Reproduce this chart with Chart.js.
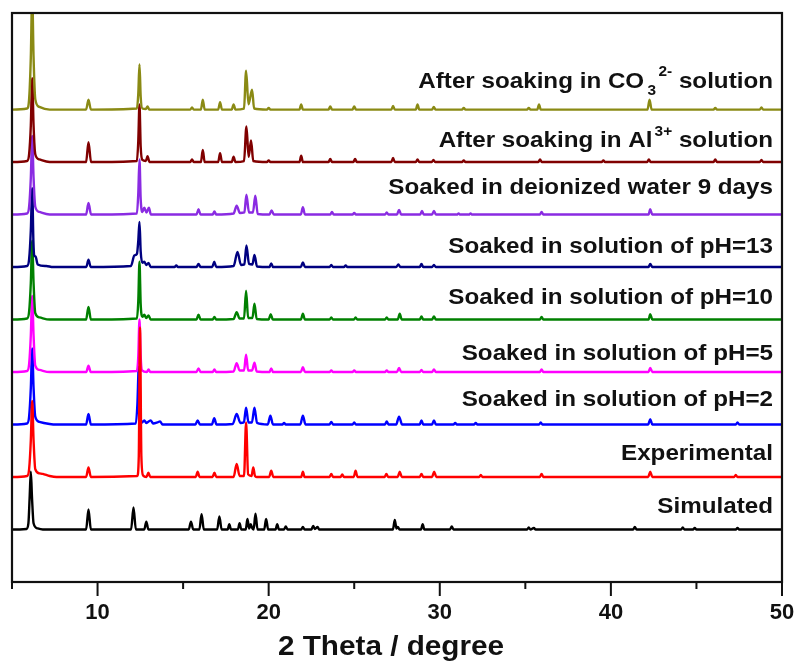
<!DOCTYPE html>
<html>
<head>
<meta charset="utf-8">
<script src="https://cdn.jsdelivr.net/npm/chart.js@4.4.1/dist/chart.umd.min.js"></script>
<style>
  html, body { margin: 0; padding: 0; background: #fff; }
  #xrd { display: block; }
</style>
</head>
<body>
<canvas id="xrd" width="800" height="666"></canvas>
<script>
// --- XRD patterns, [2theta, relative intensity] ---
const simulated = [[5,0],[5.85,0.01],[5.96,0.12],[6.03,0.6],[6.1,1.1],[6.17,0.6],[6.26,0.12],[6.5,0.02],[6.8,0],
  [9.33,0],[9.47,0.38],[9.61,0],[11.96,0],[12.1,0.42],[12.24,0],[12.73,0],[12.85,0.15],[12.97,0],
  [15.33,0],[15.46,0.15],[15.59,0],[15.95,0],[16.08,0.29],[16.21,0],[16.99,0],[17.12,0.25],[17.25,0],
  [17.6,0],[17.7,0.1],[17.8,0],[18.2,0],[18.3,0.12],[18.4,0],[18.66,0],[18.76,0.2],[18.86,0.02],[18.95,0.1],[19.05,0.02],
  [19.12,0],[19.23,0.3],[19.35,0],[19.74,0],[19.85,0.2],[19.97,0],[20.4,0],[20.5,0.1],[20.6,0],[20.9,0],[21.0,0.06],[21.1,0],
  [21.9,0],[22.0,0.05],[22.1,0],[22.5,0],[22.6,0.07],[22.7,0.01],[22.86,0.05],[22.95,0],
  [27.26,0],[27.37,0.18],[27.47,0.02],[27.55,0.05],[27.65,0],[28.9,0],[29.0,0.1],[29.1,0],[30.6,0],[30.7,0.06],[30.8,0],
  [35.1,0],[35.2,0.04],[35.3,0],[35.5,0.03],[35.6,0],[41.3,0],[41.4,0.05],[41.5,0],
  [44.1,0],[44.2,0.04],[44.3,0],[44.8,0],[44.9,0.03],[45.0,0],[47.3,0],[47.4,0.03],[47.5,0],[50,0]];

const experimental = [[5,0],[5.88,0.02],[6.0,0.15],[6.1,0.7],[6.18,1.45],[6.26,0.7],[6.36,0.15],[6.6,0.07],[6.8,0.06],[7.2,0.02],[7.6,0],
  [9.33,0],[9.47,0.18],[9.61,0],[12.32,0.02],[12.41,0.4],[12.48,2.85],[12.56,0.4],[12.66,0.03],
  [12.86,0],[12.97,0.08],[13.08,0],[15.74,0],[15.85,0.1],[15.96,0],[16.72,0],[16.83,0.08],[16.94,0],
  [17.95,0],[18.13,0.25],[18.3,0.02],[18.56,0.02],[18.68,1.04],[18.8,0.05],[19.0,0.02],[19.1,0.18],[19.2,0.02],[19.3,0],
  [20.03,0],[20.15,0.12],[20.27,0],[21.9,0],[22.0,0.1],[22.1,0],[23.56,0],[23.66,0.06],[23.76,0],
  [24.2,0],[24.3,0.05],[24.4,0],[24.97,0],[25.08,0.12],[25.19,0],[26.78,0],[26.88,0.06],[26.98,0],
  [27.54,0],[27.66,0.1],[27.78,0],[28.83,0],[28.93,0.06],[29.03,0],[29.55,0],[29.67,0.1],[29.8,0],
  [32.3,0],[32.4,0.04],[32.5,0],[35.85,0],[35.95,0.06],[36.05,0],[42.18,0],[42.3,0.1],[42.42,0],
  [47.2,0],[47.3,0.04],[47.4,0],[50,0]];

const ph2 = [[5,0],[5.88,0.02],[6.0,0.15],[6.1,0.7],[6.18,1.45],[6.26,0.7],[6.36,0.15],[6.6,0.05],[7.2,0.01],[7.6,0],
  [9.33,0],[9.47,0.2],[9.61,0],[12.24,0.02],[12.33,0.4],[12.41,1.1],[12.48,0.3],[12.6,0.04],
  [12.73,0.08],[12.85,0.03],[13.1,0.08],[13.25,0.02],[13.5,0.04],[13.65,0.06],[13.8,0],
  [15.72,0],[15.85,0.08],[15.98,0],[16.68,0],[16.82,0.12],[16.95,0],
  [17.9,0.01],[18.13,0.2],[18.35,0.03],[18.55,0.04],[18.68,0.32],[18.82,0.04],[19.02,0.04],[19.17,0.32],[19.32,0.03],
  [19.95,0],[20.1,0.17],[20.25,0],[20.8,0],[20.9,0.03],[21.0,0],[21.85,0],[22.0,0.17],[22.15,0],
  [23.55,0],[23.66,0.05],[23.77,0],[24.9,0],[25.0,0.04],[25.1,0],[26.8,0],[26.9,0.06],[27.0,0],
  [27.45,0],[27.62,0.15],[27.8,0],[28.83,0],[28.93,0.08],[29.03,0],[29.55,0],[29.66,0.08],[29.77,0],
  [30.8,0],[30.9,0.03],[31.0,0],[32.0,0],[32.1,0.03],[32.2,0],[35.8,0],[35.9,0.04],[36.0,0],
  [42.18,0],[42.3,0.1],[42.42,0],[47.3,0],[47.4,0.04],[47.5,0],[50,0]];

const ph5 = [[5,0],[5.88,0.02],[6.0,0.15],[6.1,0.7],[6.18,1.45],[6.26,0.7],[6.36,0.12],[6.6,0.04],[7.2,0],
  [9.34,0],[9.47,0.12],[9.6,0],[12.3,0.02],[12.38,0.3],[12.45,1.0],[12.52,0.3],[12.6,0.03],
  [12.88,0],[12.98,0.05],[13.08,0],[15.78,0],[15.9,0.07],[16.02,0],[16.73,0],[16.83,0.05],[16.93,0],
  [17.95,0.01],[18.13,0.17],[18.3,0.03],[18.56,0.03],[18.68,0.33],[18.8,0.03],[19.03,0.03],[19.17,0.18],[19.3,0.01],
  [20.05,0],[20.15,0.07],[20.25,0],[21.88,0],[22.0,0.09],[22.12,0],[23.56,0],[23.66,0.03],[23.76,0],
  [24.9,0],[25.0,0.03],[25.1,0],[26.8,0],[26.9,0.03],[27.0,0],[27.5,0],[27.62,0.08],[27.74,0],
  [28.83,0],[28.93,0.04],[29.03,0],[29.55,0],[29.66,0.05],[29.77,0],[35.85,0],[35.95,0.05],[36.05,0],
  [42.2,0],[42.3,0.08],[42.42,0],[50,0]];

const ph10 = [[5,0],[5.88,0.02],[6.0,0.15],[6.1,0.7],[6.18,1.5],[6.26,0.7],[6.36,0.12],[6.6,0.04],[7.2,0],
  [9.33,0],[9.47,0.24],[9.61,0],[12.3,0.02],[12.38,0.35],[12.45,1.1],[12.52,0.3],[12.62,0.05],[12.73,0.09],[12.85,0.03],[12.98,0.08],[13.1,0],
  [15.78,0],[15.9,0.09],[16.02,0],[16.73,0],[16.83,0.05],[16.93,0],
  [17.95,0.01],[18.13,0.14],[18.3,0.02],[18.56,0.02],[18.68,0.55],[18.8,0.03],[19.05,0.03],[19.17,0.3],[19.3,0.01],
  [20.0,0],[20.12,0.1],[20.24,0],[21.88,0],[22.0,0.11],[22.12,0],[23.56,0],[23.66,0.04],[23.76,0],
  [24.98,0],[25.08,0.04],[25.18,0],[26.8,0],[26.9,0.04],[27.0,0],[27.54,0],[27.66,0.11],[27.78,0],
  [28.83,0],[28.93,0.06],[29.03,0],[29.55,0],[29.66,0.06],[29.77,0],[35.85,0],[35.95,0.05],[36.05,0],
  [42.2,0],[42.3,0.1],[42.42,0],[50,0]];

const ph13 = [[5,0],[5.88,0.02],[6.0,0.15],[6.1,0.7],[6.18,1.5],[6.25,0.5],[6.3,0.22],[6.38,0.2],[6.5,0.05],[7.0,0.02],[7.4,0],
  [9.34,0],[9.47,0.14],[9.6,0],[11.95,0.02],[12.15,0.22],[12.3,0.25],[12.38,0.5],[12.45,0.86],[12.52,0.3],[12.62,0.08],
  [12.73,0.1],[12.85,0.04],[12.98,0.08],[13.1,0],[14.5,0],[14.6,0.03],[14.7,0],
  [15.78,0],[15.9,0.06],[16.02,0],[16.7,0],[16.82,0.1],[16.94,0],
  [17.95,0.02],[18.18,0.29],[18.38,0.04],[18.58,0.05],[18.7,0.41],[18.85,0.06],[19.05,0.05],[19.17,0.23],[19.32,0.01],
  [20.05,0],[20.15,0.07],[20.25,0],[21.88,0],[22.0,0.09],[22.12,0],[23.56,0],[23.66,0.04],[23.76,0],
  [24.4,0],[24.5,0.03],[24.6,0],[27.45,0],[27.58,0.05],[27.7,0],[28.83,0],[28.93,0.06],[29.03,0],
  [29.55,0],[29.66,0.04],[29.77,0],[42.2,0],[42.3,0.06],[42.42,0],[50,0]];

const water9d = [[5,0],[5.88,0.02],[6.0,0.15],[6.1,0.7],[6.18,1.5],[6.26,0.7],[6.36,0.15],[6.6,0.05],[7.2,0],
  [9.33,0],[9.47,0.22],[9.62,0],[12.3,0.02],[12.38,0.4],[12.45,1.05],[12.52,0.3],[12.62,0.05],[12.73,0.13],[12.86,0.04],[13.0,0.13],[13.12,0],
  [15.78,0],[15.9,0.1],[16.02,0],[16.73,0],[16.83,0.06],[16.93,0],
  [17.95,0.02],[18.13,0.17],[18.32,0.03],[18.58,0.04],[18.7,0.38],[18.85,0.04],[19.08,0.04],[19.22,0.36],[19.36,0.01],
  [20.05,0],[20.17,0.08],[20.3,0],[21.88,0],[22.0,0.14],[22.12,0],[23.6,0],[23.7,0.05],[23.8,0],
  [24.9,0],[25.0,0.03],[25.1,0],[26.8,0],[26.9,0.04],[27.0,0],[27.5,0],[27.62,0.09],[27.74,0],
  [28.86,0],[28.96,0.07],[29.06,0],[29.55,0],[29.66,0.07],[29.77,0],
  [31.0,0],[31.1,0.02],[31.2,0],[31.7,0],[31.8,0.02],[31.9,0],[35.85,0],[35.95,0.05],[36.05,0],
  [42.2,0],[42.3,0.1],[42.42,0],[50,0]];

const al3 = [[5,0],[5.88,0.02],[6.0,0.15],[6.1,0.7],[6.18,1.6],[6.26,0.7],[6.36,0.15],[6.6,0.05],[7.2,0],
  [9.33,0],[9.47,0.38],[9.62,0],[12.3,0.02],[12.38,0.4],[12.45,1.1],[12.52,0.3],[12.62,0.04],[12.82,0.02],[12.92,0.11],[13.04,0],
  [15.42,0],[15.52,0.05],[15.62,0],[16.04,0],[16.15,0.23],[16.26,0],[17.05,0],[17.16,0.17],[17.27,0],
  [17.84,0],[17.95,0.1],[18.06,0],[18.56,0.02],[18.7,0.68],[18.83,0.1],[18.97,0.41],[19.1,0.02],
  [19.9,0],[20.0,0.03],[20.1,0],[21.8,0],[21.9,0.12],[22.0,0],[23.5,0],[23.6,0.06],[23.7,0],
  [24.95,0],[25.05,0.06],[25.15,0],[27.17,0],[27.27,0.08],[27.37,0],[28.6,0],[28.7,0.05],[28.8,0],
  [29.53,0],[29.63,0.04],[29.73,0],[31.3,0],[31.4,0.03],[31.5,0],[35.76,0],[35.86,0.05],[35.96,0],
  [39.46,0],[39.56,0.03],[39.66,0],[42.12,0],[42.22,0.05],[42.32,0],[46.0,0],[46.1,0.05],[46.2,0],
  [48.7,0],[48.8,0.04],[48.9,0],[50,0]];

const co3 = [[5,0],[5.88,0.02],[6.0,0.2],[6.1,1.0],[6.18,2.2],[6.26,1.0],[6.36,0.2],[6.6,0.05],[7.2,0],
  [9.33,0],[9.47,0.19],[9.61,0],[12.3,0.02],[12.38,0.3],[12.45,0.86],[12.52,0.25],[12.62,0.02],[12.82,0.01],[12.92,0.06],[13.02,0],
  [15.42,0],[15.52,0.04],[15.62,0],[16.04,0],[16.15,0.19],[16.26,0],[17.05,0],[17.16,0.14],[17.27,0],
  [17.84,0],[17.95,0.1],[18.06,0],[18.56,0.02],[18.68,0.74],[18.82,0.1],[19.03,0.38],[19.15,0.02],
  [19.9,0],[20.0,0.03],[20.1,0],[21.8,0],[21.9,0.1],[22.0,0],[23.5,0],[23.6,0.06],[23.7,0],
  [24.9,0],[25.0,0.06],[25.1,0],[27.17,0],[27.27,0.07],[27.37,0],[28.6,0],[28.7,0.1],[28.8,0],
  [29.55,0],[29.65,0.05],[29.75,0],[31.3,0],[31.4,0.03],[31.5,0],[35.1,0],[35.2,0.03],[35.3,0],
  [35.7,0],[35.8,0.1],[35.9,0],[42.14,0],[42.26,0.19],[42.38,0],[46.0,0],[46.1,0.03],[46.2,0],
  [48.7,0],[48.8,0.04],[48.9,0],[50,0]];

// bottom to top
const SERIES = [simulated, experimental, ph2, ph5, ph10, ph13, water9d, al3, co3];
const OFFSETS = [1, 2, 3, 4, 5, 6, 7, 8, 9];
const COLORS = ['#000000', '#ff0000', '#0000ff', '#ff00ff', '#008000', '#000080', '#8a2be2', '#800000', '#8a8a14'];

// caption runs: [text, kind]; kind '' normal, 'sub' subscript (no advance), 'sup' superscript
const CAPTIONS = [
  [['Simulated', '']],
  [['Experimental', '']],
  [['Soaked in solution of pH=2', '']],
  [['Soaked in solution of pH=5', '']],
  [['Soaked in solution of pH=10', '']],
  [['Soaked in solution of pH=13', '']],
  [['Soaked in deionized water 9 days', '']],
  [['After soaking in Al', ''], ['3+', 'sup'], [' solution', '']],
  [['After soaking in CO', ''], ['3', 'sub'], ['2-', 'sup'], [' solution', '']]
];
const CAPTION_LIFT = [23, 23, 25, 18, 22, 20, 27, 21, 28];

const MAJOR_TICKS = [10, 20, 30, 40, 50];
const MINOR_TICKS = [5, 15, 25, 35, 45];
const X_TITLE = '2 Theta / degree';

const FONT = '"Liberation Sans", Arial, sans-serif';
const STRETCH = 1.1;

function drawCaption(ctx, runs, right, yc) {
  const big = 'bold 22px ' + FONT, small = 'bold 14px ' + FONT;
  // first pass: width
  const layout = [];
  let cur = 0;
  runs.forEach(([t, kind]) => {
    ctx.font = kind ? small : big;
    const w = ctx.measureText(t).width;
    let x = cur, dy = 0;
    if (kind === 'sub') { x = cur + 3; dy = 10; }
    else if (kind === 'sup') { x = cur + (runs.some(r => r[1] === 'sub') ? 13 : 2); dy = -9; }
    layout.push({t, kind, x, dy});
    if (kind !== 'sub') cur = x + w;
  });
  ctx.save();
  ctx.translate(right, yc);
  ctx.scale(STRETCH, 1);
  ctx.fillStyle = '#111';
  ctx.textBaseline = 'middle';
  ctx.textAlign = 'left';
  layout.forEach(r => {
    ctx.font = r.kind ? small : big;
    ctx.fillText(r.t, r.x - cur, r.dy);
  });
  ctx.restore();
}

const decorations = {
  id: 'decorations',
  afterDatasetsDraw(chart) {
    const {ctx, chartArea, scales: {y}} = chart;
    CAPTIONS.forEach((runs, i) => {
      drawCaption(ctx, runs, chartArea.right - 9, y.getPixelForValue(OFFSETS[i]) - CAPTION_LIFT[i]);
    });
  },
  afterDraw(chart) {
    const {ctx, chartArea: a, scales: {x}} = chart;
    ctx.save();
    ctx.strokeStyle = '#111';
    ctx.lineWidth = 2.2;
    ctx.strokeRect(a.left, a.top, a.right - a.left, a.bottom - a.top);
    ctx.lineWidth = 2;
    ctx.beginPath();
    MAJOR_TICKS.forEach(v => {
      const px = x.getPixelForValue(v);
      ctx.moveTo(px, a.bottom); ctx.lineTo(px, a.bottom + 14);
    });
    MINOR_TICKS.forEach(v => {
      const px = x.getPixelForValue(v);
      ctx.moveTo(px, a.bottom); ctx.lineTo(px, a.bottom + 7);
    });
    ctx.stroke();
    // tick labels
    ctx.fillStyle = '#111';
    ctx.font = 'bold 22px ' + FONT;
    ctx.textAlign = 'center';
    ctx.textBaseline = 'middle';
    MAJOR_TICKS.forEach(v => ctx.fillText(String(v), x.getPixelForValue(v), a.bottom + 31));
    // axis title, drawn slightly wide like the captions
    ctx.translate((a.left + a.right) / 2 - 6, 648);
    ctx.scale(STRETCH, 1);
    ctx.font = 'bold 27px ' + FONT;
    ctx.fillText(X_TITLE, 0, 0);
    ctx.restore();
  }
};

const datasets = SERIES.map((pts, i) => ({
  label: CAPTIONS[i].map(r => r[0]).join(''),
  data: pts.map(p => ({x: p[0], y: p[1] + OFFSETS[i]})),
  borderColor: COLORS[i],
  borderWidth: 2.4,
  pointRadius: 0,
  cubicInterpolationMode: 'monotone',
  fill: false,
  // upper patterns sit over lower ones; the experimental trace is drawn last
  order: i === 1 ? -1 : SERIES.length - i
}));

new Chart(document.getElementById('xrd'), {
  type: 'line',
  data: { datasets },
  options: {
    responsive: false,
    animation: false,
    devicePixelRatio: 1,
    layout: { padding: { left: 12, right: 18, top: 13, bottom: 84 } },
    plugins: { legend: { display: false }, tooltip: { enabled: false } },
    scales: {
      x: {
        type: 'linear', min: 5, max: 50,
        grid: { display: false, drawTicks: false },
        border: { display: false },
        ticks: { display: false }
      },
      y: {
        min: 0, max: 10.84,
        display: false
      }
    }
  },
  plugins: [decorations]
});
</script>
</body>
</html>
